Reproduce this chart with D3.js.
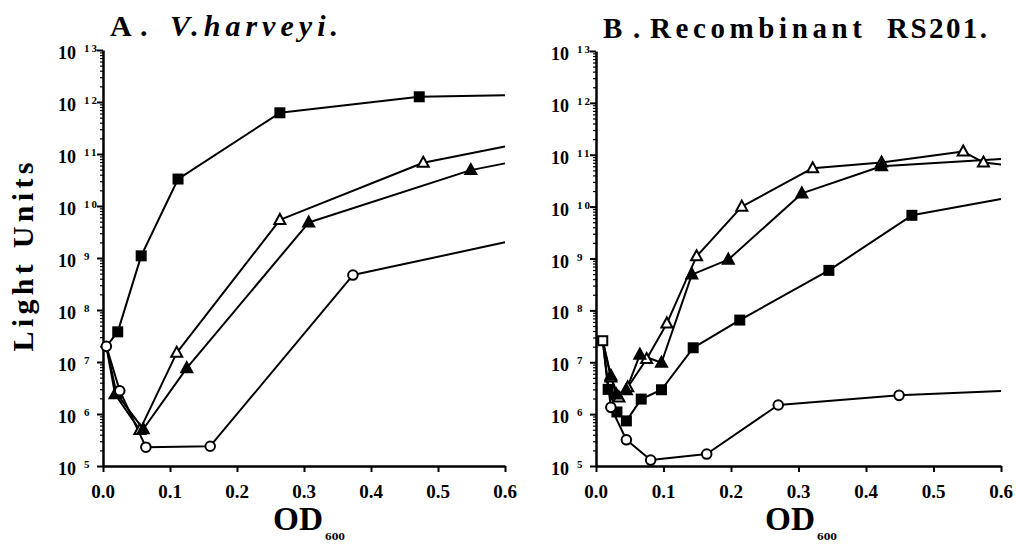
<!DOCTYPE html>
<meta charset="utf-8">
<style>
body { margin: 0; background: #fff; }
svg text { font-family: "Liberation Serif", "Times New Roman", serif; font-weight: bold; fill: #000; }
.axis path, .axis line { stroke: #000; }
</style>
<body>
<script src="https://d3js.org/d3.v7.min.js"></script>
<script>
// x ticks (OD600) and y decades (light units)
var odTicks = [0.0, 0.1, 0.2, 0.3, 0.4, 0.5, 0.6];
var decades = [5, 6, 7, 8, 9, 10, 11, 12, 13];

// panel A, V. harveyi
var aSquareOD = [0.005, 0.022, 0.057, 0.112, 0.264, 0.472, 0.6];
var aSquareLU = [2.0e7, 3.8e7, 1.1e9, 3.3e10, 6.2e11, 1.26e12, 1.35e12];
var aOpenTriOD = [0.005, 0.018, 0.055, 0.11, 0.264, 0.478, 0.6];
var aOpenTriLU = [2.0e7, 2.4e6, 4.9e5, 1.5e7, 5.4e9, 6.8e10, 1.4e11];
var aTriOD = [0.005, 0.02, 0.06, 0.125, 0.307, 0.549, 0.6];
var aTriLU = [2.0e7, 2.5e6, 5.1e5, 7.6e6, 4.8e9, 4.9e10, 6.6e10];
var aCircleOD = [0.005, 0.025, 0.064, 0.16, 0.373, 0.6];
var aCircleLU = [2.0e7, 2.8e6, 2.3e5, 2.4e5, 4.7e8, 2.0e9];

// panel B, recombinant RS201
var bOpenTriOD = [0.01, 0.022, 0.034, 0.047, 0.075, 0.105, 0.149, 0.216, 0.321, 0.423, 0.544, 0.574, 0.6];
var bOpenTriLU = [2.6e7, 5.1e6, 2.1e6, 3.3e6, 1.15e7, 5.6e7, 1.1e9, 1.0e10, 5.5e10, 7.1e10, 1.15e11, 7.1e10, 6.5e10];
var bTriOD = [0.01, 0.022, 0.03, 0.045, 0.065, 0.097, 0.142, 0.196, 0.305, 0.423, 0.6];
var bTriLU = [2.6e7, 5.5e6, 2.4e6, 2.9e6, 1.4e7, 9.8e6, 4.9e8, 9.5e8, 1.8e10, 6.0e10, 8.3e10];
var bSquareOD = [0.01, 0.018, 0.031, 0.045, 0.067, 0.097, 0.144, 0.213, 0.345, 0.468, 0.6];
var bSquareLU = [2.6e7, 3.0e6, 1.1e6, 7.4e5, 1.95e6, 2.95e6, 1.9e7, 6.5e7, 5.9e8, 6.8e9, 1.4e10];
var bCircleOD = [0.01, 0.022, 0.045, 0.081, 0.164, 0.27, 0.449, 0.6];
var bCircleLU = [2.6e7, 1.35e6, 3.2e5, 1.3e5, 1.7e5, 1.5e6, 2.3e6, 2.8e6];

var svg = d3.select("body").append("svg")
    .attr("width", 1016)
    .attr("height", 544);

function zip(od, lu) {
  return od.map(function(d, i) { return {od: d, lu: lu[i]}; });
}

function drawMarker(g, shape, px, py) {
  if (shape == "square" || shape == "squareOpen") {
    g.append("rect")
      .attr("x", px - 4.5).attr("y", py - 4.5)
      .attr("width", 9).attr("height", 9)
      .attr("fill", shape == "square" ? "#000" : "#fff")
      .attr("stroke", "#000").attr("stroke-width", 2);
  } else if (shape == "circleOpen") {
    g.append("circle")
      .attr("cx", px).attr("cy", py).attr("r", 4.8)
      .attr("fill", "#fff").attr("stroke", "#000").attr("stroke-width", 2);
  } else {
    g.append("path")
      .attr("d", "M" + px + "," + (py - 6) + "L" + (px + 5.5) + "," + (py + 4) + "L" + (px - 5.5) + "," + (py + 4) + "Z")
      .attr("fill", shape == "triangle" ? "#000" : "#fff")
      .attr("stroke", "#000").attr("stroke-width", 2).attr("stroke-linejoin", "miter");
  }
}

function panel(p) {
  var x = d3.scaleLinear().domain([0, 0.6]).range([p.left, p.right]);
  var y = d3.scaleLog().domain([1e5, 1e13]).range([p.bottom, p.top]);
  var g = svg.append("g");

  // minor log ticks
  var minor = [];
  decades.slice(0, -1).forEach(function(k) {
    for (var m = 2; m < 10; m++) minor.push(m * Math.pow(10, k));
  });
  g.append("g").attr("class", "axis")
      .attr("transform", "translate(" + p.left + ",0)")
      .call(d3.axisLeft(y).tickValues(minor).tickSize(3).tickSizeOuter(0).tickFormat(""))
      .call(function(a) { a.select(".domain").remove(); a.selectAll("line").attr("stroke-width", 1.2); });

  // y axis, decades
  g.append("g").attr("class", "axis")
      .attr("transform", "translate(" + p.left + ",0)")
      .call(d3.axisLeft(y).tickValues(decades.map(function(k) { return Math.pow(10, k); }))
        .tickSize(6).tickSizeOuter(0).tickFormat(""))
      .call(function(a) {
        a.select(".domain").attr("stroke-width", 2.5);
        a.selectAll("line").attr("stroke-width", 2);
      });

  decades.forEach(function(k) {
    var ty = y(Math.pow(10, k));
    g.append("text")
      .attr("x", p.left - 27).attr("y", ty + 9)
      .attr("text-anchor", "end")
      .style("font-size", "18px")
      .text("10");
    g.append("text")
      .attr("x", p.left - 19).attr("y", ty + 2)
      .style("font-size", "11px")
      .style("letter-spacing", "2px")
      .text(k);
  });

  // x axis
  g.append("g").attr("class", "axis")
      .attr("transform", "translate(0," + p.bottom + ")")
      .call(d3.axisBottom(x).tickValues(odTicks).tickSize(6).tickSizeOuter(0).tickFormat(""))
      .call(function(a) {
        a.select(".domain").attr("stroke-width", 2.5);
        a.selectAll("line").attr("stroke-width", 2);
      });

  odTicks.forEach(function(t) {
    g.append("text")
      .attr("x", x(t)).attr("y", p.bottom + 32)
      .attr("text-anchor", "middle")
      .style("font-size", "19px")
      .text(d3.format(".1f")(t));
  });

  var line = d3.line()
    .x(function(d) { return x(d.od); })
    .y(function(d) { return y(d.lu); });

  p.series.forEach(function(s) {
    g.append("path")
      .datum(s.data)
      .attr("d", line)
      .attr("fill", "none")
      .attr("stroke", "#000")
      .attr("stroke-width", 2)
      .attr("stroke-linejoin", "round");
  });

  // markers, skipping the shared start point and the end at the axis edge
  p.series.forEach(function(s) {
    s.data.forEach(function(d, i) {
      if (i == 0 || i == s.data.length - 1) return;
      drawMarker(g, s.shape, x(d.od), y(d.lu));
    });
  });
  var st = p.series[0].data[0];
  drawMarker(g, p.startShape, x(st.od), y(st.lu));

  // x label, OD with subscript 600
  g.append("text")
    .attr("x", p.odX).attr("y", p.bottom + 64)
    .attr("text-anchor", "middle")
    .attr("textLength", 50).attr("lengthAdjust", "spacingAndGlyphs")
    .style("font-size", "33px")
    .text("OD");
  g.append("text")
    .attr("x", p.odX + 27).attr("y", p.bottom + 74)
    .attr("textLength", 20).attr("lengthAdjust", "spacingAndGlyphs")
    .style("font-size", "11px")
    .text("600");
}

panel({
  left: 103, right: 505, top: 50, bottom: 466, odX: 298,
  startShape: "circleOpen",
  series: [
    {shape: "square", data: zip(aSquareOD, aSquareLU)},
    {shape: "triangleOpen", data: zip(aOpenTriOD, aOpenTriLU)},
    {shape: "triangle", data: zip(aTriOD, aTriLU)},
    {shape: "circleOpen", data: zip(aCircleOD, aCircleLU)}
  ]
});

panel({
  left: 596, right: 1001, top: 51, bottom: 466, odX: 790,
  startShape: "squareOpen",
  series: [
    {shape: "triangleOpen", data: zip(bOpenTriOD, bOpenTriLU)},
    {shape: "triangle", data: zip(bTriOD, bTriLU)},
    {shape: "square", data: zip(bSquareOD, bSquareLU)},
    {shape: "circleOpen", data: zip(bCircleOD, bCircleLU)}
  ]
});

// titles
svg.append("text").attr("x", 110).attr("y", 36).style("font-size", "30px").text("A");
svg.append("text").attr("x", 140).attr("y", 36).style("font-size", "30px").text(".");
svg.append("text").attr("x", 170).attr("y", 36)
  .style("font-size", "30px").style("font-style", "italic")
  .attr("textLength", 168)
  .text("V.harveyi.");

svg.append("text").attr("x", 603).attr("y", 38).style("font-size", "29px").text("B");
svg.append("text").attr("x", 633).attr("y", 38).style("font-size", "29px").text(".");
svg.append("text").attr("x", 650).attr("y", 38).style("font-size", "29px")
  .attr("textLength", 212).text("Recombinant");
svg.append("text").attr("x", 887).attr("y", 38).style("font-size", "29px")
  .attr("textLength", 100).text("RS201.");

// y label
svg.append("text")
  .attr("transform", "translate(33,257) rotate(-90)")
  .attr("text-anchor", "middle")
  .attr("textLength", 189)
  .style("font-size", "30px")
  .text("Light  Units");
</script>
</body>
